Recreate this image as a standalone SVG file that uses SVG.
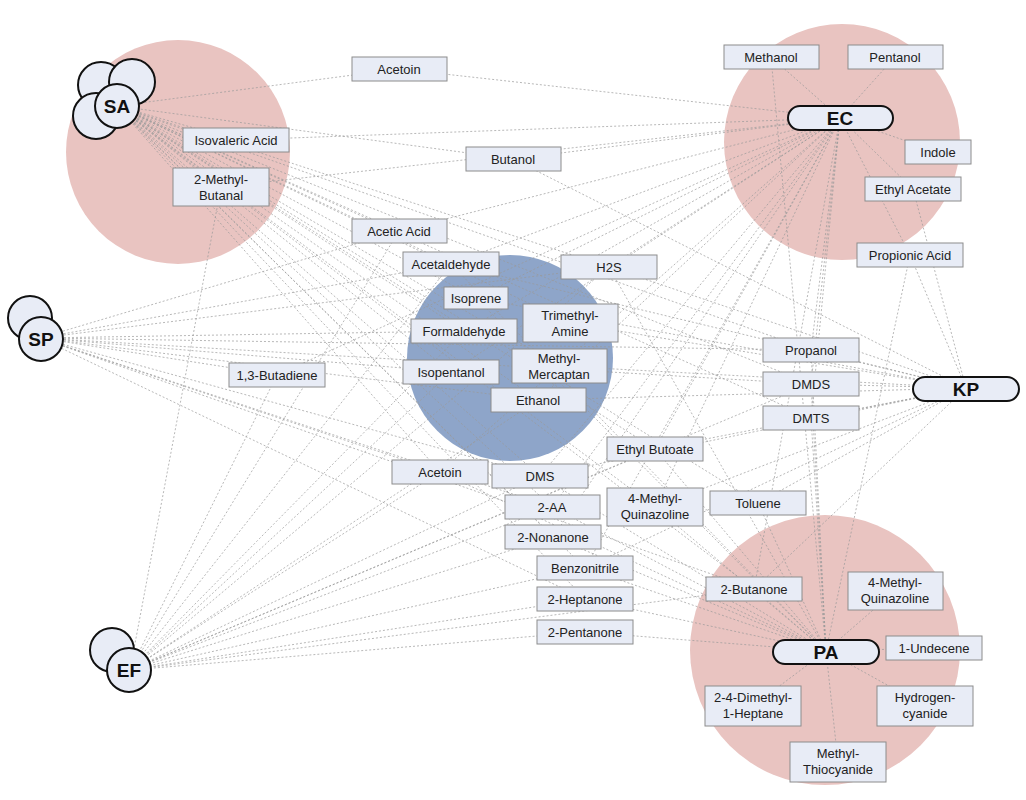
<svg xmlns="http://www.w3.org/2000/svg" width="1026" height="800" viewBox="0 0 1026 800">
<style>
.bg{fill:#e9c4c1}
.bl{fill:#8ea5c9}
.e line{stroke:#9a9a9a;stroke-width:0.7;stroke-dasharray:2,2}
.b rect{fill:#e8ecf6;stroke:#8c8c8c;stroke-width:1}
.b text{font-family:"Liberation Sans",Arial,sans-serif;font-size:13px;fill:#222;text-anchor:middle}
.o{fill:#e8ecf6;stroke:#111;stroke-width:2}
.ot{font-family:"Liberation Sans",Arial,sans-serif;font-size:19px;font-weight:bold;fill:#111;text-anchor:middle}
</style>
<rect width="1026" height="800" fill="#fff"/>
<circle class="bg" cx="178" cy="152" r="112"/>
<circle class="bg" cx="842" cy="142" r="118"/>
<circle class="bg" cx="825" cy="650" r="135"/>
<circle class="bl" cx="510" cy="358" r="103"/>
<g id="connectors" class="e">
<!-- SA -->
<line x1="117" y1="106" x2="399" y2="69"/><line x1="117" y1="106" x2="236" y2="140"/><line x1="117" y1="106" x2="221" y2="187"/><line x1="117" y1="106" x2="513" y2="159"/><line x1="117" y1="106" x2="399" y2="231"/><line x1="117" y1="106" x2="451" y2="264"/><line x1="117" y1="106" x2="609" y2="267"/><line x1="117" y1="106" x2="476" y2="298"/><line x1="117" y1="106" x2="464" y2="331"/><line x1="117" y1="106" x2="570" y2="323"/><line x1="117" y1="106" x2="559" y2="366"/><line x1="117" y1="106" x2="451" y2="372"/><line x1="117" y1="106" x2="538" y2="400"/><line x1="117" y1="106" x2="811" y2="350"/><line x1="117" y1="106" x2="811" y2="384"/><line x1="117" y1="106" x2="811" y2="418"/><line x1="117" y1="106" x2="655" y2="449"/><line x1="117" y1="106" x2="440" y2="472"/><line x1="117" y1="106" x2="540" y2="476"/><line x1="117" y1="106" x2="552" y2="507"/><line x1="117" y1="106" x2="553" y2="537"/><line x1="117" y1="106" x2="585" y2="568"/><line x1="117" y1="106" x2="585" y2="599"/><line x1="117" y1="106" x2="754" y2="589"/><line x1="117" y1="106" x2="655" y2="507"/><line x1="117" y1="106" x2="758" y2="503"/>
<!-- EC -->
<line x1="840" y1="118" x2="771" y2="57"/><line x1="840" y1="118" x2="895" y2="57"/><line x1="840" y1="118" x2="938" y2="152"/><line x1="840" y1="118" x2="913" y2="189"/><line x1="840" y1="118" x2="910" y2="255"/><line x1="840" y1="118" x2="399" y2="69"/><line x1="840" y1="118" x2="513" y2="159"/><line x1="840" y1="118" x2="399" y2="231"/><line x1="840" y1="118" x2="451" y2="264"/><line x1="840" y1="118" x2="609" y2="267"/><line x1="840" y1="118" x2="476" y2="298"/><line x1="840" y1="118" x2="464" y2="331"/><line x1="840" y1="118" x2="451" y2="372"/><line x1="840" y1="118" x2="538" y2="400"/><line x1="840" y1="118" x2="277" y2="375"/><line x1="840" y1="118" x2="811" y2="350"/><line x1="840" y1="118" x2="811" y2="384"/><line x1="840" y1="118" x2="811" y2="418"/><line x1="840" y1="118" x2="655" y2="449"/><line x1="840" y1="118" x2="440" y2="472"/><line x1="840" y1="118" x2="540" y2="476"/><line x1="840" y1="118" x2="552" y2="507"/><line x1="840" y1="118" x2="655" y2="507"/><line x1="840" y1="118" x2="553" y2="537"/><line x1="840" y1="118" x2="585" y2="568"/><line x1="840" y1="118" x2="754" y2="589"/><line x1="840" y1="118" x2="236" y2="140"/><line x1="840" y1="118" x2="221" y2="187"/>
<!-- SP -->
<line x1="40" y1="338" x2="451" y2="264"/><line x1="40" y1="338" x2="609" y2="267"/><line x1="40" y1="338" x2="464" y2="331"/><line x1="40" y1="338" x2="451" y2="372"/><line x1="40" y1="338" x2="277" y2="375"/><line x1="40" y1="338" x2="538" y2="400"/><line x1="40" y1="338" x2="540" y2="476"/><line x1="40" y1="338" x2="440" y2="472"/><line x1="40" y1="338" x2="552" y2="507"/><line x1="40" y1="338" x2="811" y2="350"/><line x1="40" y1="338" x2="811" y2="384"/><line x1="40" y1="338" x2="754" y2="589"/><line x1="40" y1="338" x2="399" y2="231"/><line x1="40" y1="338" x2="585" y2="599"/>
<!-- KP -->
<line x1="966" y1="388" x2="811" y2="350"/><line x1="966" y1="388" x2="811" y2="384"/><line x1="966" y1="388" x2="811" y2="418"/><line x1="966" y1="388" x2="910" y2="255"/><line x1="966" y1="388" x2="913" y2="189"/><line x1="966" y1="388" x2="609" y2="267"/><line x1="966" y1="388" x2="570" y2="323"/><line x1="966" y1="388" x2="559" y2="366"/><line x1="966" y1="388" x2="538" y2="400"/><line x1="966" y1="388" x2="655" y2="449"/><line x1="966" y1="388" x2="655" y2="507"/><line x1="966" y1="388" x2="754" y2="589"/><line x1="966" y1="388" x2="540" y2="476"/><line x1="966" y1="388" x2="451" y2="264"/><line x1="966" y1="388" x2="476" y2="298"/><line x1="966" y1="388" x2="758" y2="503"/><line x1="966" y1="388" x2="585" y2="568"/><line x1="966" y1="388" x2="513" y2="159"/>
<!-- EF -->
<line x1="130" y1="670" x2="221" y2="187"/><line x1="130" y1="670" x2="277" y2="375"/><line x1="130" y1="670" x2="440" y2="472"/><line x1="130" y1="670" x2="540" y2="476"/><line x1="130" y1="670" x2="552" y2="507"/><line x1="130" y1="670" x2="553" y2="537"/><line x1="130" y1="670" x2="585" y2="568"/><line x1="130" y1="670" x2="585" y2="599"/><line x1="130" y1="670" x2="585" y2="632"/><line x1="130" y1="670" x2="538" y2="400"/><line x1="130" y1="670" x2="399" y2="231"/><line x1="130" y1="670" x2="451" y2="372"/><line x1="130" y1="670" x2="464" y2="331"/><line x1="130" y1="670" x2="451" y2="264"/><line x1="130" y1="670" x2="754" y2="589"/><line x1="130" y1="670" x2="655" y2="449"/><line x1="130" y1="670" x2="811" y2="384"/><line x1="130" y1="670" x2="609" y2="267"/>
<!-- PA -->
<line x1="826" y1="651" x2="895" y2="591"/><line x1="826" y1="651" x2="934" y2="648"/><line x1="826" y1="651" x2="925" y2="706"/><line x1="826" y1="651" x2="753" y2="706"/><line x1="826" y1="651" x2="838" y2="762"/><line x1="826" y1="651" x2="754" y2="589"/><line x1="826" y1="651" x2="758" y2="503"/><line x1="826" y1="651" x2="655" y2="507"/><line x1="826" y1="651" x2="655" y2="449"/><line x1="826" y1="651" x2="540" y2="476"/><line x1="826" y1="651" x2="552" y2="507"/><line x1="826" y1="651" x2="553" y2="537"/><line x1="826" y1="651" x2="585" y2="568"/><line x1="826" y1="651" x2="585" y2="599"/><line x1="826" y1="651" x2="585" y2="632"/><line x1="826" y1="651" x2="811" y2="350"/><line x1="826" y1="651" x2="811" y2="384"/><line x1="826" y1="651" x2="811" y2="418"/><line x1="826" y1="651" x2="476" y2="298"/><line x1="826" y1="651" x2="451" y2="264"/><line x1="826" y1="651" x2="609" y2="267"/><line x1="826" y1="651" x2="771" y2="57"/><line x1="826" y1="651" x2="440" y2="472"/><line x1="826" y1="651" x2="910" y2="255"/>
</g>
<g id="SA"><circle class="o" cx="101" cy="85" r="23"/><circle class="o" cx="132" cy="82" r="23"/><circle class="o" cx="96" cy="116" r="23"/><circle class="o" cx="117" cy="106" r="22"/><text class="ot" x="117" y="113">SA</text></g>
<g id="SP"><circle class="o" cx="30" cy="318" r="22"/><circle class="o" cx="41" cy="339" r="22"/><text class="ot" x="41" y="346">SP</text></g>
<g id="EF"><circle class="o" cx="112" cy="650" r="22"/><circle class="o" cx="129" cy="670" r="22"/><text class="ot" x="129" y="677">EF</text></g>
<g id="EC"><rect class="o" x="788" y="106" width="105" height="24" rx="12"/><text class="ot" x="840" y="125">EC</text></g>
<g id="KP"><rect class="o" x="913" y="377" width="106" height="24" rx="12"/><text class="ot" x="966" y="396">KP</text></g>
<g id="PA"><rect class="o" x="773" y="640" width="106" height="24" rx="12"/><text class="ot" x="826" y="659">PA</text></g>
<g class="b">
<g id="acetoin1"><rect x="352" y="57" width="95" height="24"/><text x="399" y="74">Acetoin</text></g>
<g id="isovaleric"><rect x="183" y="128" width="106" height="24"/><text x="236" y="145">Isovaleric Acid</text></g>
<g id="methylbutanal"><rect x="173" y="168" width="96" height="38"/><text x="221" y="184">2-Methyl-</text><text x="221" y="200">Butanal</text></g>
<g id="butanol"><rect x="466" y="147" width="95" height="24"/><text x="513" y="164">Butanol</text></g>
<g id="aceticacid"><rect x="352" y="219" width="95" height="24"/><text x="399" y="236">Acetic Acid</text></g>
<g id="acetaldehyde"><rect x="403" y="252" width="96" height="24"/><text x="451" y="269">Acetaldehyde</text></g>
<g id="h2s"><rect x="561" y="255" width="96" height="24"/><text x="609" y="272">H2S</text></g>
<g id="isoprene"><rect x="444" y="287" width="64" height="22"/><text x="476" y="303">Isoprene</text></g>
<g id="formaldehyde"><rect x="411" y="319" width="106" height="24"/><text x="464" y="336">Formaldehyde</text></g>
<g id="trimethylamine"><rect x="523" y="304" width="95" height="38"/><text x="570" y="320">Trimethyl-</text><text x="570" y="336">Amine</text></g>
<g id="methylmercaptan"><rect x="512" y="349" width="95" height="34"/><text x="559" y="363">Methyl-</text><text x="559" y="379">Mercaptan</text></g>
<g id="isopentanol"><rect x="403" y="360" width="96" height="24"/><text x="451" y="377">Isopentanol</text></g>
<g id="ethanol"><rect x="491" y="388" width="95" height="24"/><text x="538" y="405">Ethanol</text></g>
<g id="butadiene"><rect x="229" y="363" width="96" height="24"/><text x="277" y="380">1,3-Butadiene</text></g>
<g id="methanol"><rect x="724" y="45" width="95" height="24"/><text x="771" y="62">Methanol</text></g>
<g id="pentanol"><rect x="848" y="45" width="95" height="24"/><text x="895" y="62">Pentanol</text></g>
<g id="indole"><rect x="905" y="140" width="66" height="24"/><text x="938" y="157">Indole</text></g>
<g id="ethylacetate"><rect x="865" y="177" width="96" height="24"/><text x="913" y="194">Ethyl Acetate</text></g>
<g id="propionicacid"><rect x="857" y="243" width="106" height="24"/><text x="910" y="260">Propionic Acid</text></g>
<g id="propanol"><rect x="763" y="338" width="96" height="24"/><text x="811" y="355">Propanol</text></g>
<g id="dmds"><rect x="763" y="372" width="96" height="24"/><text x="811" y="389">DMDS</text></g>
<g id="dmts"><rect x="763" y="406" width="96" height="24"/><text x="811" y="423">DMTS</text></g>
<g id="ethylbutoate"><rect x="607" y="437" width="96" height="24"/><text x="655" y="454">Ethyl Butoate</text></g>
<g id="acetoin2"><rect x="392" y="460" width="96" height="24"/><text x="440" y="477">Acetoin</text></g>
<g id="dms"><rect x="492" y="464" width="96" height="24"/><text x="540" y="481">DMS</text></g>
<g id="aa2"><rect x="505" y="495" width="95" height="24"/><text x="552" y="512">2-AA</text></g>
<g id="mq1"><rect x="607" y="488" width="96" height="38"/><text x="655" y="503">4-Methyl-</text><text x="655" y="519">Quinazoline</text></g>
<g id="toluene"><rect x="710" y="491" width="96" height="24"/><text x="758" y="508">Toluene</text></g>
<g id="nonanone"><rect x="505" y="525" width="96" height="24"/><text x="553" y="542">2-Nonanone</text></g>
<g id="benzonitrile"><rect x="537" y="556" width="96" height="24"/><text x="585" y="573">Benzonitrile</text></g>
<g id="heptanone"><rect x="537" y="587" width="96" height="24"/><text x="585" y="604">2-Heptanone</text></g>
<g id="pentanone"><rect x="537" y="620" width="96" height="24"/><text x="585" y="637">2-Pentanone</text></g>
<g id="butanone"><rect x="706" y="577" width="96" height="24"/><text x="754" y="594">2-Butanone</text></g>
<g id="mq2"><rect x="848" y="572" width="95" height="38"/><text x="895" y="587">4-Methyl-</text><text x="895" y="603">Quinazoline</text></g>
<g id="undecene"><rect x="886" y="636" width="96" height="24"/><text x="934" y="653">1-Undecene</text></g>
<g id="hcn"><rect x="877" y="686" width="96" height="40"/><text x="925" y="702">Hydrogen-</text><text x="925" y="718">cyanide</text></g>
<g id="dmh"><rect x="705" y="686" width="96" height="40"/><text x="753" y="702">2-4-Dimethyl-</text><text x="753" y="718">1-Heptane</text></g>
<g id="mtc"><rect x="790" y="742" width="96" height="40"/><text x="838" y="758">Methyl-</text><text x="838" y="774">Thiocyanide</text></g>
</g>
</svg>
